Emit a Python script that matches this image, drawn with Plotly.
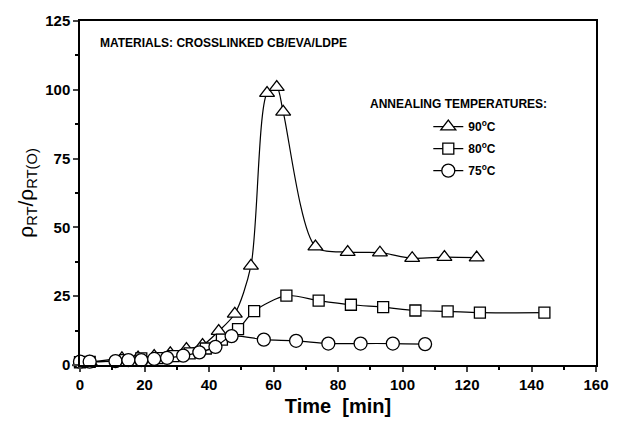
import plotly.graph_objects as go

# 90 °C (triangles)
t90 = [0, 3, 13, 18, 23, 28, 33, 38, 43, 48, 53, 58, 61, 63, 73, 83, 93, 103, 113, 123]
r90 = [1.0, 1.1, 2.4, 2.7, 3.2, 4.2, 5.8, 7.2, 12.3, 18.6, 36.0, 98.8, 101.0, 92.0, 43.0, 41.0, 40.8, 38.8, 39.2, 39.0]
# 80 °C (squares)
t80 = [0, 3, 14, 19, 24, 29, 34, 39, 44, 49, 54, 64, 74, 84, 94, 104, 114, 124, 144]
r80 = [1.0, 1.1, 1.8, 2.4, 2.5, 3.2, 4.2, 6.0, 9.2, 13.0, 19.6, 25.2, 23.4, 21.9, 21.0, 19.8, 19.5, 19.0, 19.0]
# 75 °C (circles)
t75 = [0, 3, 11, 15, 19, 23, 27, 32, 37, 42, 47, 57, 67, 77, 87, 97, 107]
r75 = [1.2, 1.2, 1.4, 1.8, 1.8, 2.2, 2.6, 3.4, 4.6, 6.6, 10.5, 9.2, 8.8, 7.8, 7.8, 7.8, 7.6]

names = ["<b>90<sup>o</sup>C</b>", "<b>80<sup>o</sup>C</b>", "<b>75<sup>o</sup>C</b>"]
xticks = [0, 20, 40, 60, 80, 100, 120, 140, 160]
yticks = [0, 25, 50, 75, 100, 125]

FONT = "Liberation Sans"
fig = go.Figure()
for i, (t, r, nm, sym, sz) in enumerate([(t90, r90, names[0], "triangle-up", 13),
                                         (t80, r80, names[1], "square", 11),
                                         (t75, r75, names[2], "circle", 13)]):
    fig.add_trace(go.Scatter(
        x=t, y=r, name=nm, mode="lines+markers", legendgroup="g%d" % i,
        line=dict(color="black", width=1.2, shape="spline", smoothing=0.8),
        marker=dict(symbol=sym, size=sz, color="white", line=dict(color="black", width=1.3)),
    ))

fig.update_layout(
    width=621, height=430,
    margin=dict(l=80, r=18, t=18, b=65),
    paper_bgcolor="white", plot_bgcolor="white",
    font=dict(family=FONT, color="black", size=14),
    showlegend=True,
    legend=dict(x=0.675, y=0.735, xanchor="left", yanchor="top",
                bgcolor="rgba(0,0,0,0)", font=dict(family=FONT, size=12, color="black"),
                itemwidth=30, tracegroupgap=3),
    annotations=[
        dict(text="<b>MATERIALS: CROSSLINKED CB/EVA/LDPE</b>", xref="paper", yref="paper",
             x=0.035, y=0.935, xanchor="left", yanchor="middle", showarrow=False,
             font=dict(family=FONT, size=12)),
        dict(text="<b>ANNEALING TEMPERATURES:</b>", xref="paper", yref="paper",
             x=0.558, y=0.758, xanchor="left", yanchor="middle", showarrow=False,
             font=dict(family=FONT, size=12)),
    ],
)
fig.update_xaxes(range=[0, 160], tickvals=xticks, ticks="outside", ticklen=5, tickwidth=1.5,
                 showline=True, linecolor="black", linewidth=1.5, mirror=True, showgrid=False,
                 zeroline=False, tickfont=dict(family=FONT, size=15, weight="bold"),
                 minor=dict(dtick=10, ticks="outside", ticklen=3, tickcolor="black"),
                 title=dict(text="<b>Time  [min]</b>", font=dict(family=FONT, size=20), standoff=7))
fig.update_yaxes(range=[0, 125], tickvals=yticks, ticks="outside", ticklen=5, tickwidth=1.5,
                 showline=True, linecolor="black", linewidth=1.5, mirror=True, showgrid=False,
                 zeroline=False, tickfont=dict(family=FONT, size=15, weight="bold"),
                 minor=dict(dtick=12.5, ticks="outside", ticklen=3, tickcolor="black"),
                 title=dict(text="ρ<sub>RT</sub>/ρ<sub>RT(O)</sub>", font=dict(family=FONT, size=21), standoff=6))
for tr in fig.data:
    tr.cliponaxis = False
fig.write_html("out.html")
